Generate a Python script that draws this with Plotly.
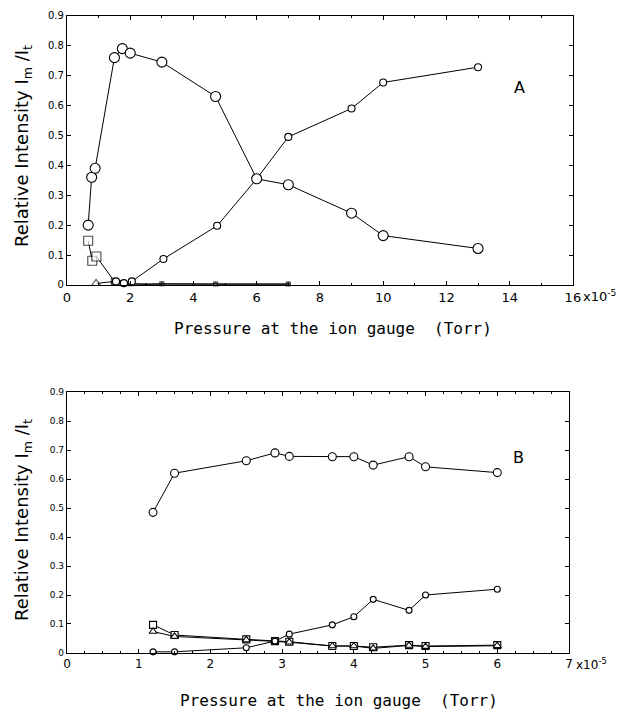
import plotly.graph_objects as go

# ---------------- Panel A data ----------------
a_main_x = [0.67, 0.78, 0.89, 1.5, 1.75, 2.0, 3.0, 4.7, 6.0, 7.0, 9.0, 10.0, 13.0]
a_main_y = [0.20, 0.36, 0.39, 0.76, 0.79, 0.775, 0.745, 0.63, 0.355, 0.335, 0.24, 0.165, 0.122]
a_rise_x = [1.55, 1.8, 2.05, 3.05, 4.75, 6.0, 7.0, 9.0, 10.0, 13.0]
a_rise_y = [0.012, 0.006, 0.012, 0.087, 0.198, 0.355, 0.495, 0.59, 0.677, 0.728]
a_sq_x = [0.67, 0.8, 0.93, 1.5, 1.75, 2.0, 2.5, 3.0, 4.7, 7.0]
a_sq_y = [0.148, 0.081, 0.095, 0.012, 0.006, 0.004, 0.003, 0.004, 0.003, 0.003]
a_tri_x = [0.92, 1.5, 1.75, 2.0, 2.5, 3.0, 4.7, 7.0]
a_tri_y = [0.005, 0.012, 0.008, 0.004, 0.002, 0.003, 0.003, 0.003]

# ---------------- Panel B data ----------------
b_x = [1.2, 1.5, 2.5, 2.9, 3.1, 3.7, 4.0, 4.27, 4.77, 5.0, 6.0]
b_main_y = [0.485, 0.62, 0.663, 0.69, 0.678, 0.677, 0.677, 0.648, 0.677, 0.642, 0.622]
b_rise_y = [0.004, 0.004, 0.018, 0.041, 0.065, 0.097, 0.125, 0.185, 0.147, 0.2, 0.22]
b_sq_y = [0.097, 0.062, 0.047, 0.041, 0.039, 0.024, 0.024, 0.02, 0.027, 0.024, 0.027]
b_tri_y = [0.074, 0.057, 0.045, 0.04, 0.037, 0.024, 0.024, 0.016, 0.026, 0.022, 0.025]

a_xticks = [0, 2, 4, 6, 8, 10, 12, 14, 16]
b_xticks = [0, 1, 2, 3, 4, 5, 6, 7]
yticks = [0, 0.1, 0.2, 0.3, 0.4, 0.5, 0.6, 0.7, 0.8, 0.9]
ytick_text = ["0", "0.1", "0.2", "0.3", "0.4", "0.5", "0.6", "0.7", "0.8", "0.9"]

FONT = "DejaVu Sans"
MONO = "DejaVu Sans Mono"
LINE = dict(color="black", width=1)

fig = go.Figure()


def add(x, y, symbol, size, xa, ya, sizes=None):
    fig.add_trace(go.Scatter(
        x=x, y=y, mode="lines+markers", xaxis=xa, yaxis=ya,
        line=LINE, cliponaxis=False,
        marker=dict(symbol=symbol, size=sizes if sizes else size, color="white",
                    line=dict(color="black", width=1.1)),
        showlegend=False, hoverinfo="skip"))


# panel A
add(a_sq_x, a_sq_y, "square", 9, "x", "y", sizes=[9, 9, 9, 6, 5, 4, 1, 4, 4, 4])
add(a_tri_x, a_tri_y, "triangle-up", 8, "x", "y", sizes=[8, 6, 5, 4, 1, 4, 4, 4])
add(a_rise_x, a_rise_y, "circle", 7, "x", "y")
add(a_main_x, a_main_y, "circle", 10, "x", "y")

# panel B
add(b_x, b_sq_y, "square", 7, "x2", "y2")
add(b_x, b_tri_y, "triangle-up", 7, "x2", "y2")
add(b_x, b_rise_y, "circle", 6, "x2", "y2")
add(b_x, b_main_y, "circle", 8, "x2", "y2")

common_axis = dict(showline=True, linecolor="black", linewidth=1.2, mirror="ticks",
                   ticks="inside", ticklen=4, tickcolor="black", showgrid=False,
                   zeroline=False, fixedrange=True, automargin=False)

fig.update_layout(
    width=618, height=716,
    margin=dict(l=0, r=0, t=0, b=0),
    paper_bgcolor="white", plot_bgcolor="white",
    font=dict(family=FONT, color="black"),
    xaxis=dict(domain=[0.1084, 0.927], range=[0, 16], anchor="y",
               tickvals=a_xticks, ticktext=[str(v) for v in a_xticks],
               tickfont=dict(size=13, family=FONT),
               minor=dict(ticks="inside", ticklen=2, dtick=1, tickcolor="black"),
               **common_axis),
    yaxis=dict(domain=[0.602, 0.978], range=[0, 0.9], anchor="x",
               tickvals=yticks, ticktext=ytick_text,
               tickfont=dict(size=10, family=FONT),
               **common_axis),
    xaxis2=dict(domain=[0.1084, 0.9207], range=[0, 7], anchor="y2",
                tickvals=b_xticks, ticktext=[str(v) for v in b_xticks],
                tickfont=dict(size=12, family=FONT),
                minor=dict(ticks="inside", ticklen=2, dtick=0.25, tickcolor="black"),
                **common_axis),
    yaxis2=dict(domain=[0.088, 0.4525], range=[0, 0.9], anchor="x2",
                tickvals=yticks, ticktext=ytick_text,
                tickfont=dict(size=9, family=FONT),
                **common_axis),
)


def pann(text, px, py, size, family=FONT, angle=0):
    return dict(text=text, x=px / 618, y=1 - py / 716, xref="paper", yref="paper",
                xanchor="center", yanchor="middle", textangle=angle,
                showarrow=False, font=dict(size=size, family=family))


ann = [
    dict(text="A", x=14.3, y=0.66, xref="x", yref="y", showarrow=False,
         xanchor="center", yanchor="middle", font=dict(size=16, family=FONT)),
    dict(text="B", x=6.3, y=0.675, xref="x2", yref="y2", showarrow=False,
         xanchor="center", yanchor="middle", font=dict(size=16, family=FONT)),
    dict(text="x10<sup>-5</sup>", x=16, y=0, xref="x", yref="y", xanchor="left",
         yanchor="top", xshift=8, yshift=-1, showarrow=False,
         font=dict(size=13, family=FONT)),
    dict(text="x10<sup>-5</sup>", x=7, y=0, xref="x2", yref="y2", xanchor="left",
         yanchor="top", xshift=5, yshift=-1, showarrow=False,
         font=dict(size=12, family=FONT)),
    pann("Relative Intensity I<sub>m</sub> /I<sub>t</sub>", 23, 146, 18, angle=-90),
    pann("Relative Intensity I<sub>m</sub> /I<sub>t</sub>", 23, 520, 18, angle=-90),
    pann("Pressure at the ion gauge&nbsp;&nbsp;(Torr)", 333, 328, 16, family=MONO),
    pann("Pressure at the ion gauge&nbsp;&nbsp;(Torr)", 339, 700, 16, family=MONO),
]
fig.update_layout(annotations=ann)

fig.write_html("out.html")
